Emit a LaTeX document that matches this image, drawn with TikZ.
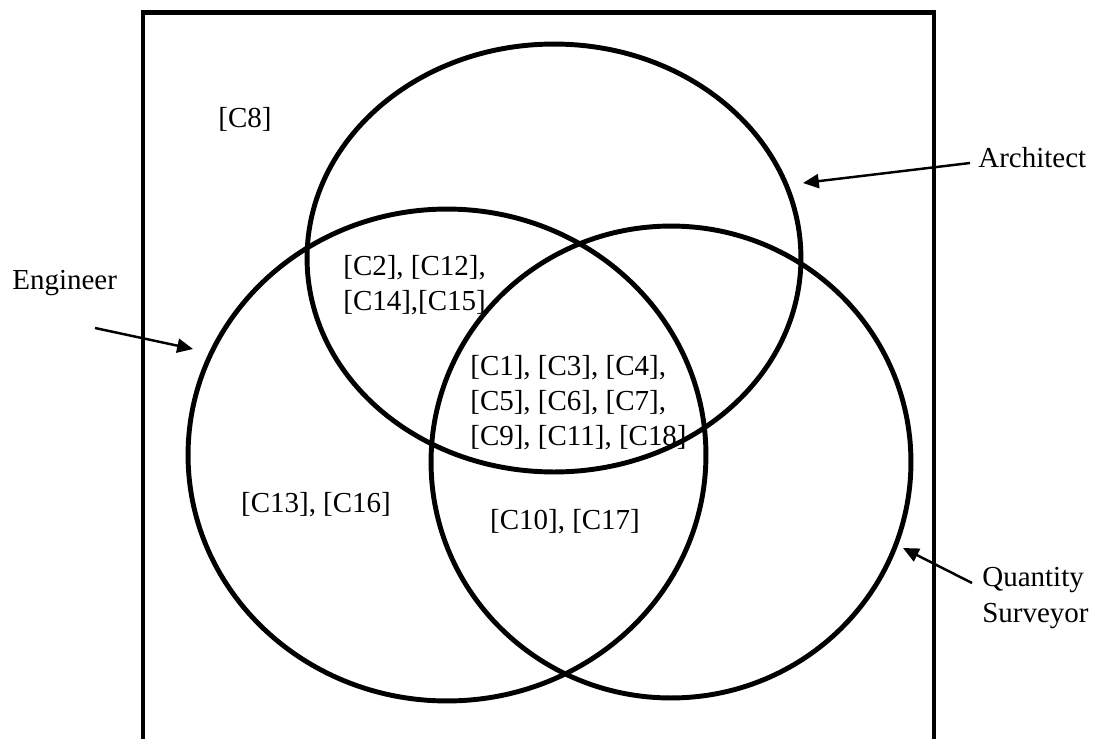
\documentclass[tikz,border=0pt]{standalone}
\usepackage{fontspec}
\setmainfont{Liberation Serif}
\usetikzlibrary{arrows.meta}

\begin{document}
\begin{tikzpicture}[x=0.02cm,y=-0.02cm,
    set/.style={line width=2.8pt},
    frame/.style={line width=2.8pt},
    pointer/.style={line width=1.4pt,-{Triangle[length=9pt,width=8pt]}},
    lbl/.style={font=\fontsize{16.5}{20}\selectfont,inner sep=0pt},
    grp/.style={lbl,align=left,anchor=west}]
    \useasboundingbox (0,0) rectangle (1100,738);
    \clip (0,0) rectangle (1100,738);
    \draw[frame] (143,760) -- (143,12.5) -- (934,12.5) -- (934,760);
    \draw[set] (554,258) ellipse [x radius=4.94cm, y radius=4.28cm];
    \draw[set] (447,455) ellipse [x radius=5.18cm, y radius=4.92cm];
    \draw[set] (671,462) ellipse [x radius=4.8cm, y radius=4.72cm];
    % labels of the sets
    \node[lbl,anchor=west] (archlbl) at (978,158) {Architect};
    \node[lbl,anchor=west] (englbl) at (12,283) {Engineer};
    \node[lbl,align=left,anchor=west] (qslbl) at (982,598) {Quantity\\Surveyor};
    \coordinate (archtip) at (803,183);
    \coordinate (engtip) at (193,349);
    \coordinate (qstip) at (903,548);
    \draw[pointer] ([shift={(-8,5)}]archlbl.west) -- (archtip);
    \draw[pointer] ([shift={(83,45)}]englbl.west) -- (engtip);
    \draw[pointer] ([shift={(-10,-15)}]qslbl.west) -- (qstip);
    % regions
    \node[lbl] (onlynone) at (245,119) {[C8]};
    \node[grp] (archeng) at (343,285) {[C2], [C12],\\{}[C14],[C15]};
    \node[grp] (allthree) at (470,403) {[C1], [C3], [C4],\\{}[C5], [C6], [C7],\\{}[C9], [C11], [C18]};
    \node[lbl] (onlyeng) at (316,505) {[C13], [C16]};
    \node[lbl] (engqs) at (565,522) {[C10], [C17]};
    %\node[lbl] (onlyqs) at (800,520) {};
\end{tikzpicture}
\end{document}
